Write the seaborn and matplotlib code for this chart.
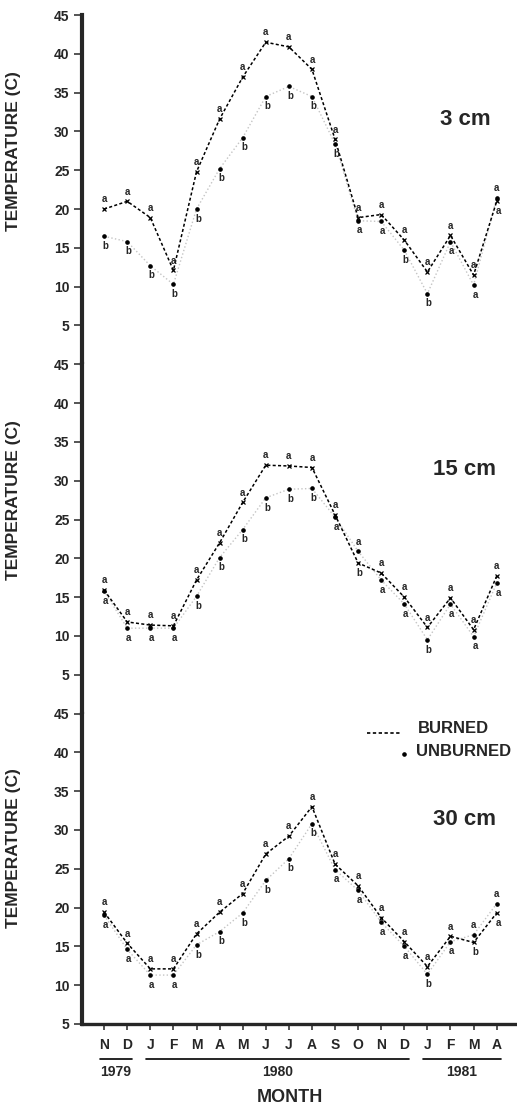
import numpy as np
import pandas as pd
import matplotlib.pyplot as plt
import matplotlib.transforms as mtransforms
import seaborn as sns

# Месяцы: ноябрь 1979 - апрель 1981
months = ['N', 'D', 'J', 'F', 'M', 'A', 'M', 'J', 'J', 'A', 'S', 'O', 'N', 'D', 'J', 'F', 'M', 'A']
years = ['1979', '1980', '1981']
year_start = [0, 2, 14]
year_end = [1, 13, 17]

depths = ['3 cm', '15 cm', '30 cm']

# Средние температуры (C), сгоревший участок
burned_3 = [20.0, 21.0, 18.9, 12.1, 24.8, 31.6, 37.0, 41.5, 40.9, 38.0, 29.0, 18.9, 19.3, 16.0, 11.9, 16.6, 11.5, 21.0]
burned_15 = [15.9, 11.8, 11.4, 11.3, 17.2, 22.0, 27.2, 32.0, 31.9, 31.7, 25.6, 19.4, 18.1, 15.0, 11.1, 14.9, 10.8, 17.7]
burned_30 = [19.4, 15.4, 12.1, 12.1, 16.6, 19.4, 21.8, 26.9, 29.2, 33.0, 25.6, 22.8, 18.7, 15.6, 12.4, 16.3, 15.5, 19.3]

# Несгоревший участок
unburned_3 = [16.5, 15.8, 12.7, 10.3, 20.0, 25.2, 29.2, 34.5, 35.8, 34.5, 28.4, 18.5, 18.4, 14.7, 9.1, 15.8, 10.2, 21.4]
unburned_15 = [15.8, 11.0, 11.0, 11.0, 15.1, 20.1, 23.7, 27.8, 28.9, 29.0, 25.3, 20.9, 17.2, 14.1, 9.5, 14.1, 9.9, 16.8]
unburned_30 = [19.0, 14.6, 11.3, 11.3, 15.2, 16.9, 19.3, 23.5, 26.3, 30.8, 24.9, 22.2, 18.1, 15.0, 11.4, 15.6, 16.5, 20.5]

# Буквы значимости
letters_burned = ['a'] * 18
letters_unburned_3 = list('bbbbbbbbbbbaabbaaa')
letters_unburned_15 = list('aaaabbbbbbabaabaaa')
letters_unburned_30 = list('aaaabbbbbbaaaababa')

burned = [burned_3, burned_15, burned_30]
unburned = [unburned_3, unburned_15, unburned_30]
letters_unburned = [letters_unburned_3, letters_unburned_15, letters_unburned_30]

sns.set_style('ticks')
plt.rcParams['font.family'] = ['Liberation Sans', 'DejaVu Sans']
plt.rcParams['font.weight'] = 'bold'

fig = plt.figure(figsize=(5.17, 11.07), dpi=100)
gs = fig.add_gridspec(3, 1, height_ratios=[45, 45, 40], hspace=0,
                      left=0.159, right=1.0, top=0.9864, bottom=0.075)

idx = np.arange(len(months))
label_y = [0.61, 0.61, 0.568]
depth_y = [0.70, 0.70, 0.66]

for p in range(3):
    ax = fig.add_subplot(gs[p])
    df = pd.DataFrame({'idx': idx, 'burned': burned[p], 'unburned': unburned[p]})

    sns.lineplot(data=df, x='idx', y='unburned', ax=ax, color='#c4c4c4', linestyle=':',
                 linewidth=1.0)
    ax.plot(df['idx'], df['unburned'], 'o', color='black', markersize=2.3, zorder=4)
    sns.lineplot(data=df, x='idx', y='burned', ax=ax, color='black', linestyle=(0, (2.0, 1.5)),
                 linewidth=1.1, marker='x', markersize=3.5, markeredgewidth=0.9,
                 markeredgecolor='black')

    for i in idx:
        top = max(burned[p][i], unburned[p][i])
        low = min(burned[p][i], unburned[p][i])
        ax.annotate(letters_burned[i], (i, top), xytext=(0, 7), textcoords='offset points',
                    ha='center', va='center', fontsize=7, fontweight='bold')
        ax.annotate(letters_unburned[p][i], (i, low), xytext=(1, -7), textcoords='offset points',
                    ha='center', va='center', fontsize=7, fontweight='bold')

    ax.set_xlim(-0.95, 17.88)
    ax.set_ylim(0 if p < 2 else 5, 45)
    ax.set_yticks(range(5, 50, 5))
    ax.tick_params(axis='y', length=6, width=1.1, labelsize=10, pad=3)
    for lab in ax.get_yticklabels():
        lab.set_fontweight('bold')
    ax.set_ylabel('TEMPERATURE (C)', fontsize=12.5, fontweight='bold')
    ax.yaxis.set_label_coords(-0.14, label_y[p])
    ax.set_xlabel('')

    for s in ['top', 'right']:
        ax.spines[s].set_visible(False)
    ax.spines['left'].set_linewidth(3)

    ax.text(0.88, depth_y[p], depths[p], transform=ax.transAxes, ha='center', va='center',
            fontsize=16, fontweight='bold')

    if p < 2:
        ax.spines['bottom'].set_visible(False)
        ax.tick_params(axis='x', bottom=False, labelbottom=False)
    else:
        ax.spines['bottom'].set_linewidth(2.4)
        ax.set_xticks(idx)
        ax.set_xticklabels(months, fontsize=10, fontweight='bold')
        ax.tick_params(axis='x', length=4, width=1.1, pad=6)

        trans = mtransforms.blended_transform_factory(ax.transData, ax.transAxes)
        for name, s, e in zip(years, year_start, year_end):
            ax.plot([s - 0.2, e + 0.2], [-0.113, -0.113], transform=trans, color='black',
                    linewidth=1.2, clip_on=False)
            ax.text((s + e) / 2, -0.155, name, transform=trans, ha='center', va='center',
                    fontsize=10, fontweight='bold')
        ax.text(0.478, -0.236, 'MONTH', transform=ax.transAxes, ha='center', va='center',
                fontsize=13, fontweight='bold')

        # Легенда
        ax.plot([0.655, 0.733], [0.938, 0.938], transform=ax.transAxes, color='black',
                linestyle=(0, (2.0, 1.5)), linewidth=1.2)
        ax.text(0.772, 0.951, 'BURNED', transform=ax.transAxes, ha='left', va='center',
                fontsize=12, fontweight='bold')
        ax.plot([0.741], [0.871], 'o', transform=ax.transAxes, color='black', markersize=2.3)
        ax.text(0.768, 0.877, 'UNBURNED', transform=ax.transAxes, ha='left', va='center',
                fontsize=12, fontweight='bold')

plt.savefig('out.png', dpi=100)
